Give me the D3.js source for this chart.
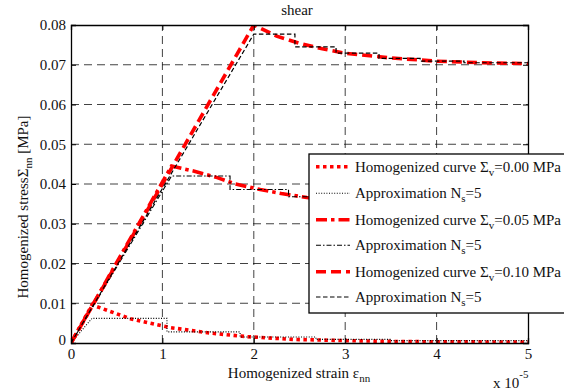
<!DOCTYPE html>
<html>
<head>
<meta charset="utf-8">
<script src="https://cdn.jsdelivr.net/npm/d3@7"></script>
<style>
  html, body { margin: 0; padding: 0; background: #fff; }
</style>
</head>
<body>
<svg id="chart" width="564" height="392"></svg>
<script>
// Strain in units of 1e-5, stress in MPa
const xTicks = [0, 1, 2, 3, 4, 5];
const yTicks = [0, 0.01, 0.02, 0.03, 0.04, 0.05, 0.06, 0.07, 0.08];
const yTickLabels = ["0", "0.01", "0.02", "0.03", "0.04", "0.05", "0.06", "0.07", "0.08"];

// Homogenized curve, Σv = 0.00 MPa
const h000x = [0, 0.23, 0.65, 1.08, 1.52, 1.92, 2.43, 3.0, 3.5, 4.0, 4.5, 5.0];
const h000y = [0, 0.0096, 0.0061, 0.0039, 0.0025, 0.0016, 0.0009, 0.0006, 0.0004, 0.0003, 0.00027, 0.00025];
// Approximation, Ns = 5
const a000x = [0, 0.23, 1.05, 1.05, 1.85, 1.85, 2.68, 2.68, 3.5, 3.5, 5.0];
const a000y = [0, 0.0062, 0.0062, 0.0028, 0.0028, 0.0015, 0.0015, 0.0009, 0.0009, 0.0006, 0.0006];

// Homogenized curve, Σv = 0.05 MPa
const h005x = [0, 1.1, 1.35, 1.6, 1.8, 2.07, 2.3, 2.58, 3.0, 3.5, 4.0, 4.5, 5.0];
const h005y = [0, 0.0445, 0.0432, 0.0416, 0.0400, 0.0386, 0.0376, 0.0366, 0.0355, 0.0346, 0.0340, 0.0336, 0.0333];
// Approximation, Ns = 5
const a005x = [0, 1.1, 1.74, 1.74, 2.38, 2.38, 3.02, 3.02, 3.66, 3.66, 5.0];
const a005y = [0, 0.0420, 0.0420, 0.0386, 0.0386, 0.0368, 0.0368, 0.0356, 0.0356, 0.0347, 0.0347];

// Homogenized curve, Σv = 0.10 MPa
const h010x = [0, 2.0, 2.25, 2.5, 2.75, 3.0, 3.5, 4.0, 4.5, 5.0];
const h010y = [0, 0.0800, 0.0772, 0.0754, 0.0740, 0.0729, 0.0717, 0.0709, 0.0705, 0.0703];
// Approximation, Ns = 5
const a010x = [0, 2.0, 2.45, 2.45, 2.9, 2.9, 3.37, 3.37, 3.82, 3.82, 4.3, 4.3, 5.0];
const a010y = [0, 0.0777, 0.0777, 0.0745, 0.0745, 0.0729, 0.0729, 0.0716, 0.0716, 0.0709, 0.0709, 0.0705, 0.0705];

const legendLabels = [
  {main: "Homogenized curve Σ", sub: "v", tail: "=0.00 MPa"},
  {main: "Approximation N", sub: "s", tail: "=5"},
  {main: "Homogenized curve Σ", sub: "v", tail: "=0.05 MPa"},
  {main: "Approximation N", sub: "s", tail: "=5"},
  {main: "Homogenized curve Σ", sub: "v", tail: "=0.10 MPa"},
  {main: "Approximation N", sub: "s", tail: "=5"}
];

const styles = [
  {color: "#ff0000", width: 3.6, dash: "3.5,3.5"},
  {color: "#000000", width: 1.1, dash: "1,1.6"},
  {color: "#ff0000", width: 3.6, dash: "11,4,3.5,4"},
  {color: "#000000", width: 1.1, dash: "5,2,1.5,2"},
  {color: "#ff0000", width: 3.6, dash: "10,5"},
  {color: "#000000", width: 1.2, dash: "4.5,2.5"}
];

const series = [
  [h000x, h000y], [a000x, a000y],
  [h005x, h005y], [a005x, a005y],
  [h010x, h010y], [a010x, a010y]
];

const FONT = "Liberation Serif";
const FS = 15, SUB = 11;

const svg = d3.select("#chart");
const m = {left: 71, right: 36, top: 25, bottom: 49};
const W = 564, H = 392;
const x = d3.scaleLinear().domain([0, 5]).range([m.left, W - m.right]);
const y = d3.scaleLinear().domain([0, 0.08]).range([H - m.bottom, m.top]);

svg.append("defs").append("clipPath").attr("id", "plotclip")
  .append("rect")
  .attr("x", x(0)).attr("y", y(0.08))
  .attr("width", x(5) - x(0)).attr("height", y(0) - y(0.08));

// grid
const grid = svg.append("g").attr("stroke", "#111").attr("stroke-width", 0.8)
  .attr("stroke-dasharray", "8,5");
grid.selectAll(".gx").data(xTicks.slice(1, -1)).join("line")
  .attr("x1", d => x(d)).attr("x2", d => x(d))
  .attr("y1", y(0)).attr("y2", y(0.08));
grid.selectAll(".gy").data(yTicks.slice(1, -1)).join("line")
  .attr("y1", d => y(d)).attr("y2", d => y(d))
  .attr("x1", x(0)).attr("x2", x(5));

// curves
const line = d3.line().x(d => x(d[0])).y(d => y(d[1]));
const curves = svg.append("g").attr("clip-path", "url(#plotclip)");
series.forEach((s, i) => {
  const pts = s[0].map((v, k) => [v, s[1][k]]);
  curves.append("path")
    .attr("d", line(pts))
    .attr("fill", "none")
    .attr("stroke", styles[i].color)
    .attr("stroke-width", styles[i].width)
    .attr("stroke-dasharray", styles[i].dash);
});

// axes with inward ticks on all four sides
const tickLen = 5;
const fmtY = (d, i) => yTickLabels[i];
const axB = svg.append("g").attr("transform", `translate(0,${y(0)})`)
  .call(d3.axisBottom(x).tickValues(xTicks).tickSize(-tickLen).tickPadding(5).tickFormat(d3.format("d")));
const axT = svg.append("g").attr("transform", `translate(0,${y(0.08)})`)
  .call(d3.axisTop(x).tickValues(xTicks).tickSize(-tickLen).tickFormat(""));
const axL = svg.append("g").attr("transform", `translate(${x(0)},0)`)
  .call(d3.axisLeft(y).tickValues(yTicks).tickSize(-tickLen).tickPadding(5).tickFormat(fmtY));
const axR = svg.append("g").attr("transform", `translate(${x(5)},0)`)
  .call(d3.axisRight(y).tickValues(yTicks).tickSize(-tickLen).tickFormat(""));
[axB, axT, axL, axR].forEach(a => {
  a.attr("font-family", FONT).attr("font-size", FS);
  a.select(".domain").attr("stroke", "#000").attr("stroke-width", 1.3);
  a.selectAll(".tick line").attr("stroke", "#000").attr("stroke-width", 1);
  a.selectAll("text").attr("fill", "#111").attr("font-family", FONT);
});
axL.selectAll(".tick").filter(d => d === 0).select("text").attr("dy", "0.1em");

// title
svg.append("text").attr("x", 297).attr("y", 15).attr("font-family", FONT)
  .attr("text-anchor", "middle").attr("font-size", FS).attr("fill", "#111").text("shear");

// x label
const xl = svg.append("text").attr("x", 299).attr("y", 378).attr("font-family", FONT)
  .attr("text-anchor", "middle").attr("font-size", FS).attr("fill", "#111");
xl.append("tspan").text("Homogenized strain ε");
xl.append("tspan").attr("font-size", SUB).attr("dy", 4).text("nn");

// exponent
const ex = svg.append("text").attr("x", 493).attr("y", 388).attr("font-family", FONT)
  .attr("font-size", FS).attr("fill", "#111");
ex.append("tspan").text("x 10");
ex.append("tspan").attr("font-size", SUB).attr("dy", -10).text("-5");

// y label
const yl = svg.append("text").attr("transform", "translate(28,207) rotate(-90)")
  .attr("font-family", FONT)
  .attr("text-anchor", "middle").attr("font-size", FS).attr("fill", "#111");
yl.append("tspan").text("Homogenized stressΣ");
yl.append("tspan").attr("font-size", SUB).attr("dy", 4).text("nn");
yl.append("tspan").attr("dy", -4).text(" [MPa]");

// legend
const lg = svg.append("g");
const lgX = 309, lgY = 154, lgW = 270, lgH = 159;
lg.append("rect").attr("x", lgX).attr("y", lgY).attr("width", lgW).attr("height", lgH)
  .attr("fill", "#fff").attr("stroke", "#000").attr("stroke-width", 1.3);
const rowY = [166.7, 193.3, 219.7, 245.3, 271.7, 297];
legendLabels.forEach((lab, i) => {
  const ry = rowY[i];
  lg.append("line").attr("x1", 316).attr("x2", 350).attr("y1", ry).attr("y2", ry)
    .attr("stroke", styles[i].color).attr("stroke-width", styles[i].width)
    .attr("stroke-dasharray", styles[i].dash);
  const t = lg.append("text").attr("x", 355).attr("y", ry + 5).attr("font-family", FONT)
    .attr("font-size", FS).attr("fill", "#111");
  t.append("tspan").text(lab.main);
  t.append("tspan").attr("font-size", SUB).attr("dy", 4).text(lab.sub);
  t.append("tspan").attr("dy", -4).text(lab.tail);
});
</script>
</body>
</html>
